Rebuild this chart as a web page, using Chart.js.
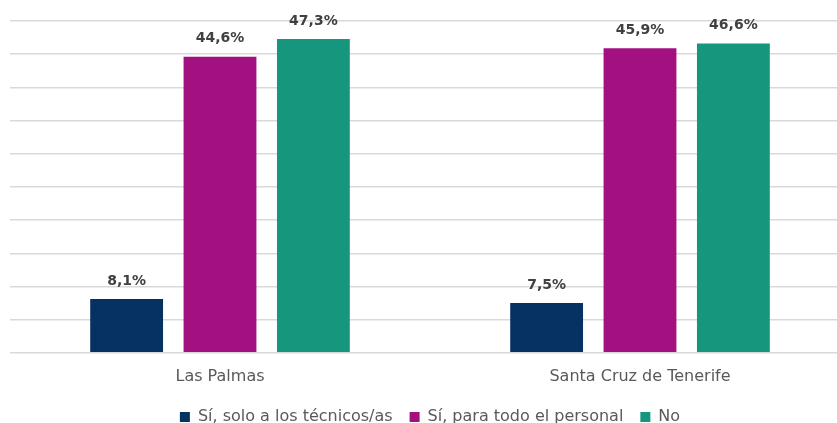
<!DOCTYPE html>
<html>
<head>
<meta charset="utf-8">
<script src="https://cdn.jsdelivr.net/npm/chart.js@4/dist/chart.umd.min.js"></script>
<style>
  html, body { margin: 0; padding: 0; background: #fff; overflow: hidden; }
  #wrap { width: 852px; height: 435px; }
</style>
</head>
<body>
<div id="wrap"><canvas id="canvas"></canvas></div>
<script>
// categorías y series
var categorias = ["Las Palmas", "Santa Cruz de Tenerife"];
var serieNombres = ["Sí, solo a los técnicos/as", "Sí, para todo el personal", "No"];
var soloTecnicos = [8.1, 7.5];
var todoPersonal = [44.6, 45.9];
var noRespuesta = [47.3, 46.6];
var colores = ["#063163", "#A3107F", "#16967D"];

var fuente = "'DejaVu Sans', sans-serif";

// etiquetas encima de las barras
var etiquetasPlugin = {
    id: "etiquetas",
    afterDatasetsDraw: function(chart) {
        var ctx = chart.ctx;
        ctx.save();
        ctx.font = "bold 14px " + fuente;
        ctx.fillStyle = "#404040";
        ctx.textAlign = "center";
        ctx.textBaseline = "middle";
        chart.data.datasets.forEach(function(ds, i) {
            chart.getDatasetMeta(i).data.forEach(function(bar, j) {
                var txt = ds.data[j].toFixed(1).replace(".", ",") + "%";
                ctx.fillText(txt, bar.x, bar.y - 18);
            });
        });
        ctx.restore();
    }
};

window.onload = function(){
    var ctx = document.getElementById("canvas").getContext("2d");
    var series = [soloTecnicos, todoPersonal, noRespuesta];
    window.myBar = new Chart(ctx, {
        type: 'bar',
        data: {
            labels: categorias,
            datasets: series.map(function(d, i) {
                return {
                    label: serieNombres[i],
                    data: d,
                    backgroundColor: colores[i],
                    barPercentage: 0.78,
                    categoryPercentage: 0.667
                };
            })
        },
        options: {
            responsive: true,
            maintainAspectRatio: false,
            animation: false,
            layout: { padding: { top: 21, left: 10, right: 2, bottom: 0 } },
            scales: {
                x: {
                    grid: { display: false },
                    border: { display: false },
                    ticks: { color: "#595959", font: { family: fuente, size: 16 }, padding: 6 }
                },
                y: {
                    min: 0,
                    max: 50,
                    ticks: { display: false, stepSize: 5 },
                    border: { display: false },
                    grid: { color: "#d9d9d9", lineWidth: 1.5, drawTicks: false }
                }
            },
            plugins: {
                legend: {
                    position: 'bottom',
                    labels: {
                        color: "#595959",
                        font: { family: fuente, size: 16 },
                        boxWidth: 10,
                        boxHeight: 10,
                        padding: 17
                    }
                },
                tooltip: { enabled: false }
            }
        },
        plugins: [etiquetasPlugin]
    });
};
</script>
</body>
</html>
